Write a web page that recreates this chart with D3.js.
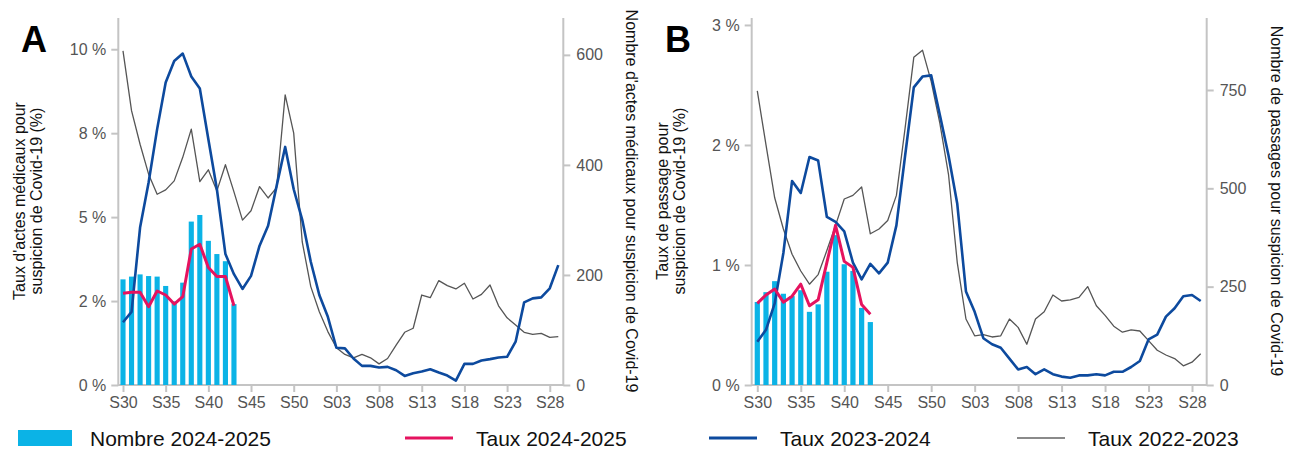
<!DOCTYPE html>
<html>
<head>
<meta charset="utf-8">
<script src="https://cdn.jsdelivr.net/npm/d3@7"></script>
<style>
    body { margin: 0; background: #fff; }
    svg { font-family: "Liberation Sans", Arial, sans-serif; }
    .axis path, .axis line { stroke: #c4c4c4; stroke-width: 2px; }
    .axis text { fill: #555; font-size: 16px; }
    .axis-title { fill: #111; font-size: 16px; }
    .panel-letter { font-size: 36px; font-weight: bold; fill: #000; }
    .legend-label { font-size: 21px; fill: #111; }
</style>
</head>
<body>
<div id="chart"></div>
<script>
// weeks of the season, S30 to S29
var weeks = d3.range(30, 53).concat(d3.range(1, 30)).map(function(w) {
    return "S" + (w < 10 ? "0" + w : w);
});
var weekTicks = ["S30", "S35", "S40", "S45", "S50", "S03", "S08", "S13", "S18", "S23", "S28"];

// panel A : actes medicaux (SOS Medecins)
var countA2425 = [192, 197, 201, 198, 197, 180, 152, 186, 297, 309, 262, 238, 225, 147];
var rateA2425 = [2.73, 2.76, 2.76, 2.33, 2.80, 2.68, 2.41, 2.63, 4.05, 4.19, 3.50, 3.23, 3.23, 2.36];
var rateA2324 = [1.87, 2.18, 4.69, 6.03, 7.62, 9.01, 9.65, 9.87, 9.19, 8.83, 7.32, 5.83, 3.90, 3.30,
    2.86, 3.25, 4.15, 4.74, 5.93, 7.09, 5.83, 4.92, 3.67, 2.68, 2.03, 1.11, 1.09, 0.79, 0.57, 0.57,
    0.52, 0.54, 0.44, 0.27, 0.35, 0.40, 0.47, 0.37, 0.28, 0.13, 0.63, 0.63, 0.73, 0.77, 0.82, 0.84,
    1.29, 2.46, 2.58, 2.61, 2.88, 3.57];
var rateA2223 = [9.95, 8.17, 7.17, 6.28, 5.68, 5.81, 6.08, 6.78, 7.62, 6.06, 6.41, 5.78, 6.56, 5.75,
    4.91, 5.19, 5.91, 5.57, 5.88, 8.64, 7.50, 4.26, 2.93, 2.18, 1.59, 1.11, 0.91, 0.81, 0.91, 0.81,
    0.63, 0.79, 1.19, 1.57, 1.69, 2.68, 2.60, 3.11, 2.96, 2.86, 3.03, 2.56, 2.70, 2.98, 2.36, 2.00,
    1.79, 1.57, 1.51, 1.54, 1.42, 1.44];
var leftTicksA = [0, 2.5, 5, 7.5, 10];
var leftLabelsA = ["0 %", "2 %", "5 %", "8 %", "10 %"];
var rightTicksA = [0, 200, 400, 600];

// panel B : passages aux urgences (OSCOUR)
var countB2425 = [211, 236, 264, 232, 226, 241, 186, 205, 288, 381, 307, 290, 196, 160];
var rateB2425 = [0.68, 0.75, 0.80, 0.69, 0.74, 0.84, 0.66, 0.71, 1.02, 1.33, 1.03, 0.98, 0.67, 0.59];
var rateB2324 = [0.36, 0.46, 0.68, 1.10, 1.70, 1.60, 1.90, 1.87, 1.40, 1.36, 1.28, 1.02, 0.88, 1.01,
    0.93, 1.02, 1.33, 1.91, 2.48, 2.57, 2.58, 2.25, 1.91, 1.51, 0.78, 0.61, 0.39, 0.34, 0.31, 0.22,
    0.13, 0.15, 0.09, 0.13, 0.09, 0.07, 0.06, 0.08, 0.08, 0.09, 0.08, 0.11, 0.11, 0.15, 0.20, 0.38,
    0.42, 0.57, 0.64, 0.74, 0.75, 0.70];
var rateB2223 = [2.45, 2.00, 1.56, 1.30, 1.09, 0.95, 0.84, 0.92, 1.12, 1.33, 1.55, 1.58, 1.65, 1.26,
    1.30, 1.37, 1.58, 2.14, 2.73, 2.79, 2.53, 2.18, 1.75, 1.02, 0.55, 0.41, 0.42, 0.40, 0.41, 0.55,
    0.48, 0.34, 0.55, 0.61, 0.75, 0.70, 0.71, 0.73, 0.82, 0.66, 0.58, 0.49, 0.44, 0.46, 0.45, 0.37,
    0.29, 0.25, 0.22, 0.16, 0.19, 0.26];
var leftTicksB = [0, 1, 2, 3];
var leftLabelsB = ["0 %", "1 %", "2 %", "3 %"];
var rightTicksB = [0, 250, 500, 750];

var legendItems = ["Nombre 2024-2025", "Taux 2024-2025", "Taux 2023-2024", "Taux 2022-2023"];

var colors = { bar: "#0bb3e6", r2425: "#e5135f", r2324: "#0d4a9e", r2223: "#555555" };

var svg = d3.select("#chart").append("svg")
    .attr("width", 1290)
    .attr("height", 450);

DualChart = function(_svg, _opts) {
    this.svg = _svg;
    this.opts = _opts;
    this.initVis();
};

DualChart.prototype.initVis = function() {
    var vis = this;
    var o = vis.opts;

    vis.g = vis.svg.append("g");

    vis.x = d3.scalePoint()
        .domain(weeks)
        .range([o.x0, o.x1]);

    vis.yLeft = d3.scaleLinear()
        .domain([0, o.leftMax])
        .range([385, 18]);

    vis.yRight = d3.scaleLinear()
        .domain([0, o.rightMax])
        .range([385, 18]);

    var xAxis = d3.axisBottom(vis.x)
        .tickValues(weekTicks)
        .tickSize(7)
        .tickPadding(5);

    var yAxisLeft = d3.axisLeft(vis.yLeft)
        .tickValues(o.leftTicks)
        .tickFormat(function(d, i) { return o.leftLabels[i]; })
        .tickSize(7)
        .tickPadding(5);

    var yAxisRight = d3.axisRight(vis.yRight)
        .tickValues(o.rightTicks)
        .tickSize(7)
        .tickPadding(6);

    // x axis line spans the whole panel, axis path is replaced
    var gx = vis.g.append("g")
        .attr("class", "axis")
        .attr("transform", "translate(0,385)")
        .call(xAxis);
    gx.select(".domain").remove();
    gx.append("line")
        .attr("x1", o.axisL).attr("x2", o.axisR);

    var gl = vis.g.append("g")
        .attr("class", "axis")
        .attr("transform", "translate(" + o.axisL + ",0)")
        .call(yAxisLeft);
    gl.select(".domain").remove();
    gl.append("line").attr("y1", 18).attr("y2", 386);

    var gr = vis.g.append("g")
        .attr("class", "axis")
        .attr("transform", "translate(" + o.axisR + ",0)")
        .call(yAxisRight);
    gr.select(".domain").remove();
    gr.append("line").attr("y1", 18).attr("y2", 386);

    vis.g.append("text")
        .attr("class", "panel-letter")
        .attr("x", o.letterX)
        .attr("y", 52)
        .text(o.letter);

    // left axis title, two lines
    var lt = vis.g.append("text")
        .attr("class", "axis-title")
        .attr("text-anchor", "middle")
        .attr("transform", "translate(" + o.leftTitleX + ",201)rotate(-90)");
    lt.append("tspan").attr("x", 0).attr("dy", 0).text(o.leftTitle[0]);
    lt.append("tspan").attr("x", 0).attr("dy", 17).text(o.leftTitle[1]);

    vis.g.append("text")
        .attr("class", "axis-title")
        .attr("text-anchor", "middle")
        .attr("transform", "translate(" + o.rightTitleX + ",201)rotate(90)")
        .text(o.rightTitle);

    vis.updateChart();
};

DualChart.prototype.updateChart = function() {
    var vis = this;
    var o = vis.opts;
    var bw = vis.x.step() * 0.6;

    vis.g.selectAll(".bar")
        .data(o.counts)
        .enter()
        .append("rect")
        .attr("class", "bar")
        .attr("x", function(d, i) { return vis.x(weeks[i]) - bw / 2; })
        .attr("y", function(d) { return vis.yRight(d); })
        .attr("width", bw)
        .attr("height", function(d) { return 385 - vis.yRight(d); })
        .attr("fill", colors.bar);

    var line = d3.line()
        .x(function(d, i) { return vis.x(weeks[i]); })
        .y(function(d) { return vis.yLeft(d); });

    var series = [
        { values: o.r2223, color: colors.r2223, width: 1.3 },
        { values: o.r2324, color: colors.r2324, width: 2.6 },
        { values: o.r2425, color: colors.r2425, width: 3 }
    ];

    vis.g.selectAll(".line")
        .data(series)
        .enter()
        .append("path")
        .attr("class", "line")
        .attr("fill", "none")
        .attr("stroke", function(d) { return d.color; })
        .attr("stroke-width", function(d) { return d.width; })
        .attr("stroke-linejoin", "round")
        .attr("d", function(d) { return line(d.values); });
};

new DualChart(svg, {
    letter: "A", letterX: 21,
    x0: 123, x1: 558.3, axisL: 118.3, axisR: 563.3,
    leftMax: 10.93, rightMax: 667,
    leftTicks: leftTicksA, leftLabels: leftLabelsA, rightTicks: rightTicksA,
    leftTitle: ["Taux d'actes médicaux pour", "suspicion de Covid-19 (%)"],
    leftTitleX: 25,
    rightTitle: "Nombre d'actes médicaux pour suspicion de Covid-19",
    rightTitleX: 626,
    counts: countA2425, r2425: rateA2425, r2324: rateA2324, r2223: rateA2223
});

new DualChart(svg, {
    letter: "B", letterX: 665,
    x0: 757.3, x1: 1200.7, axisL: 751.7, axisR: 1206.7,
    leftMax: 3.058, rightMax: 933,
    leftTicks: leftTicksB, leftLabels: leftLabelsB, rightTicks: rightTicksB,
    leftTitle: ["Taux de passage pour", "suspicion de Covid-19 (%)"],
    leftTitleX: 668,
    rightTitle: "Nombre de passages pour suspicion de Covid-19",
    rightTitleX: 1271,
    counts: countB2425, r2425: rateB2425, r2324: rateB2324, r2223: rateB2223
});

// legend
var legend = svg.append("g").attr("class", "legend");
var legendX = [18, 405, 709, 1017];

legend.append("rect")
    .attr("x", legendX[0]).attr("y", 430)
    .attr("width", 54).attr("height", 16)
    .attr("fill", colors.bar);

var legendLines = [colors.r2425, colors.r2324, "#8a8a8a"];
legend.selectAll(".legend-line")
    .data(legendLines)
    .enter()
    .append("line")
    .attr("class", "legend-line")
    .attr("x1", function(d, i) { return legendX[i + 1]; })
    .attr("x2", function(d, i) { return legendX[i + 1] + 48; })
    .attr("y1", 438).attr("y2", 438)
    .attr("stroke", function(d) { return d; })
    .attr("stroke-width", function(d, i) { return i === 2 ? 2 : 3; });

legend.selectAll(".legend-label")
    .data(legendItems)
    .enter()
    .append("text")
    .attr("class", "legend-label")
    .attr("x", function(d, i) { return legendX[i] + (i === 0 ? 72 : 71); })
    .attr("y", 446)
    .text(function(d) { return d; });
</script>
</body>
</html>
